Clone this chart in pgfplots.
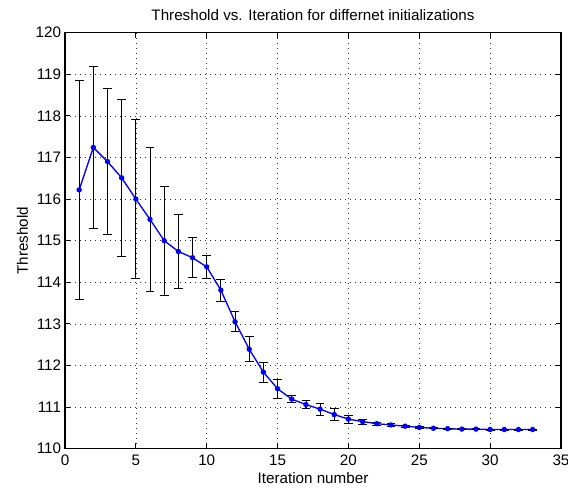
\documentclass[border=0pt]{standalone}
\usepackage{fontspec}
\setmainfont{Liberation Sans}
\usepackage{pgfplots}
\pgfplotsset{compat=1.18}
\usepackage{pgfplotstable}
\pgfplotstableread{
x y e
1 116.22 2.63
2 117.24 1.94
3 116.90 1.75
4 116.51 1.88
5 116.00 1.91
6 115.51 1.73
7 115.00 1.31
8 114.74 0.88
9 114.59 0.48
10 114.37 0.27
11 113.81 0.27
12 113.05 0.24
13 112.39 0.30
14 111.84 0.24
15 111.44 0.23
16 111.19 0.09
17 111.06 0.10
18 110.95 0.15
19 110.82 0.15
20 110.71 0.10
21 110.65 0.06
22 110.60 0.03
23 110.57 0.03
24 110.54 0.03
25 110.51 0.02
26 110.49 0.01
27 110.48 0.01
28 110.47 0.01
29 110.47 0.01
30 110.46 0.01
31 110.46 0.01
32 110.46 0.01
33 110.46 0.01
}\datatable
\begin{document}
\fontsize{11.4}{13}\selectfont
\begin{tikzpicture}
\useasboundingbox (-48.75pt,-31.75pt) rectangle (377.25pt,336.5pt);
\begin{axis}[
  at={(0,0)}, anchor=south west,
  scale only axis,
  width=372pt, height=312pt,
  xmin=0, xmax=35, ymin=110, ymax=120,
  xtick={0,5,...,35}, ytick={110,111,...,120},
  tick align=inside,
  major tick length=4pt,
  grid=major,
  major grid style={black!80, line width=0.5pt, dash pattern=on 0.75pt off 3pt},
  axis line style={black, line width=0.8pt},
  tick style={black, line width=0.6pt},
  /pgf/number format/assume math mode=true,
  ticklabel style={font=\fontsize{11.4}{13}\selectfont},
  xticklabel style={yshift=-1pt},
  yticklabel style={xshift=1pt},
  label style={font=\fontsize{11.4}{13}\selectfont},
  xlabel style={yshift=3pt},
  ylabel style={yshift=-2pt},
  title style={font=\fontsize{11.4}{13}\selectfont, yshift=-1pt},
  title={Threshold vs. Iteration for differnet initializations},
  xlabel={Iteration number},
  ylabel={Threshold},
]
\addplot[
  blue, line width=1pt,
  mark=*, mark size=1.5pt, mark options={blue},
  error bars/.cd, y dir=both, y explicit,
  error bar style={black, line width=0.6pt},
  error mark options={rotate=90, black, mark size=3.3pt, line width=0.6pt},
] table[x=x, y=y, y error=e] {\datatable};
\end{axis}
\end{tikzpicture}
\end{document}
